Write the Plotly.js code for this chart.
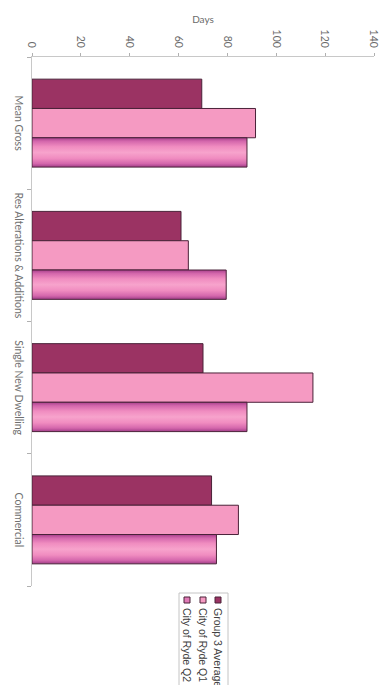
<!DOCTYPE html>
<html>
<head>
<meta charset="utf-8">
<script src="https://cdn.plot.ly/plotly-3.0.1.min.js"></script>
<style>
  html, body { margin: 0; padding: 0; background: #ffffff; overflow: hidden; width: 381px; height: 685px; }
  /* The column chart is laid out landscape and turned a quarter clockwise onto the page */
  #chart {
    position: absolute; left: 0; top: 0;
    width: 720px; height: 381px;
    transform-origin: 0 0;
    transform: translateX(381px) rotate(90deg);
  }
</style>
</head>
<body>
<div id="chart"></div>
<script>
// Processing times (days) by application type
const categories = ["Mean Gross", "Res Alterations & Additions", "Single New Dwelling", "Commercial"];
const seriesNames = ["Group 3 Average", "City of Ryde Q1", "City of Ryde Q2"];
const group3Average = [69.5, 61, 70, 73.5];
const rydeQ1 = [91.5, 64, 115, 84.5];
const rydeQ2 = [88, 79.5, 88, 75.5];
const valueTicks = [0, 20, 40, 60, 80, 100, 120, 140];

const seriesValues = [group3Average, rydeQ1, rydeQ2];
const seriesColors = ["#9b3363", "#f59ac2", "#e07ab6"];
const outline = "#4a2238";

const W = 720, H = 381;
const M = { l: 57, r: W - 586, t: 7, b: 32 };
const plotW = W - M.l - M.r, plotH = H - M.t - M.b;
const px2x = px => (px - M.l) / plotW;
const px2y = py => (H - M.b - py) / plotH;

const traces = seriesNames.map((name, i) => ({
  type: "bar",
  name: name,
  x: categories,
  y: seriesValues[i],
  marker: { color: seriesColors[i], line: { color: outline, width: 1 } },
  hoverinfo: "x+y+name"
}));

// Hand-built legend box on the right
const shapes = [{
  type: "rect", xref: "paper", yref: "paper",
  x0: px2x(593), x1: px2x(W + 20), y0: px2y(202), y1: px2y(153),
  line: { color: "#c4c4c4", width: 1 }, fillcolor: "rgba(0,0,0,0)"
}];
const annotations = [];
const rowY = [163, 178, 194];
seriesNames.forEach((name, i) => {
  shapes.push({
    type: "rect", xref: "paper", yref: "paper",
    x0: px2x(597), x1: px2x(603), y0: px2y(rowY[i] + 3), y1: px2y(rowY[i] - 3),
    line: { color: outline, width: 1 }, fillcolor: seriesColors[i]
  });
  annotations.push({
    xref: "paper", yref: "paper", x: px2x(606), y: px2y(rowY[i]),
    xanchor: "left", yanchor: "middle", showarrow: false, text: name,
    font: { family: "Liberation Sans, Arial, sans-serif", size: 10.5, color: "#404040" }
  });
});

const layout = {
  width: W, height: H,
  margin: M,
  paper_bgcolor: "#ffffff", plot_bgcolor: "#ffffff",
  barmode: "group", bargap: 0.335, bargroupgap: 0,
  showlegend: false,
  font: { family: "Lato, Open Sans, sans-serif", size: 10.5, color: "#6b6b6b" },
  xaxis: {
    type: "category",
    showline: true, linecolor: "#c8c8c8", linewidth: 1,
    ticks: "outside", ticklen: 4, tickcolor: "#b0b0b0", tickson: "boundaries",
    showgrid: false, zeroline: false, fixedrange: true,
    tickangle: 0, automargin: false,
    tickfont: { family: "Lato, Open Sans, sans-serif", size: 10.5, color: "#707070" },
    ticklabelstandoff: 3
  },
  yaxis: {
    range: [0, 140], tickvals: valueTicks, ticktext: valueTicks.map(String),
    showline: true, linecolor: "#c8c8c8", linewidth: 1,
    ticks: "outside", ticklen: 3, tickcolor: "#b0b0b0",
    showgrid: false, zeroline: false, fixedrange: true,
    automargin: false, ticklabelstandoff: 3,
    tickfont: { family: "Lato, Open Sans, sans-serif", size: 10.5, color: "#6b6b6b" },
    title: { text: "Days", font: { family: "Lato, Open Sans, sans-serif", size: 10, color: "#6b6b6b" }, standoff: 4 }
  },
  shapes: shapes,
  annotations: annotations
};

const gd = document.getElementById("chart");
Plotly.newPlot(gd, traces, layout, { displayModeBar: false, staticPlot: true }).then(() => {
  // Shade the Q2 columns with a cylinder-style gradient across their width
  const svgNS = "http://www.w3.org/2000/svg";
  const svg = gd.querySelector("svg.main-svg");
  let defs = svg.querySelector("defs");
  if (!defs) { defs = document.createElementNS(svgNS, "defs"); svg.insertBefore(defs, svg.firstChild); }
  const grad = document.createElementNS(svgNS, "linearGradient");
  grad.setAttribute("id", "q2shade");
  grad.setAttribute("x1", "0"); grad.setAttribute("y1", "0");
  grad.setAttribute("x2", "1"); grad.setAttribute("y2", "0");
  [[0, "#a8408c"], [0.12, "#d467ac"], [0.3, "#f08cc0"], [0.5, "#f7a3cc"], [0.7, "#f08cc0"], [0.88, "#d467ac"], [1, "#a03c88"]]
    .forEach(([o, c]) => {
      const s = document.createElementNS(svgNS, "stop");
      s.setAttribute("offset", o); s.setAttribute("stop-color", c);
      grad.appendChild(s);
    });
  defs.appendChild(grad);
  const barTraces = gd.querySelectorAll(".barlayer .trace");
  if (barTraces[2]) {
    barTraces[2].querySelectorAll(".point path").forEach(p => { p.style.fill = "url(#q2shade)"; });
  }
});
</script>
</body>
</html>
